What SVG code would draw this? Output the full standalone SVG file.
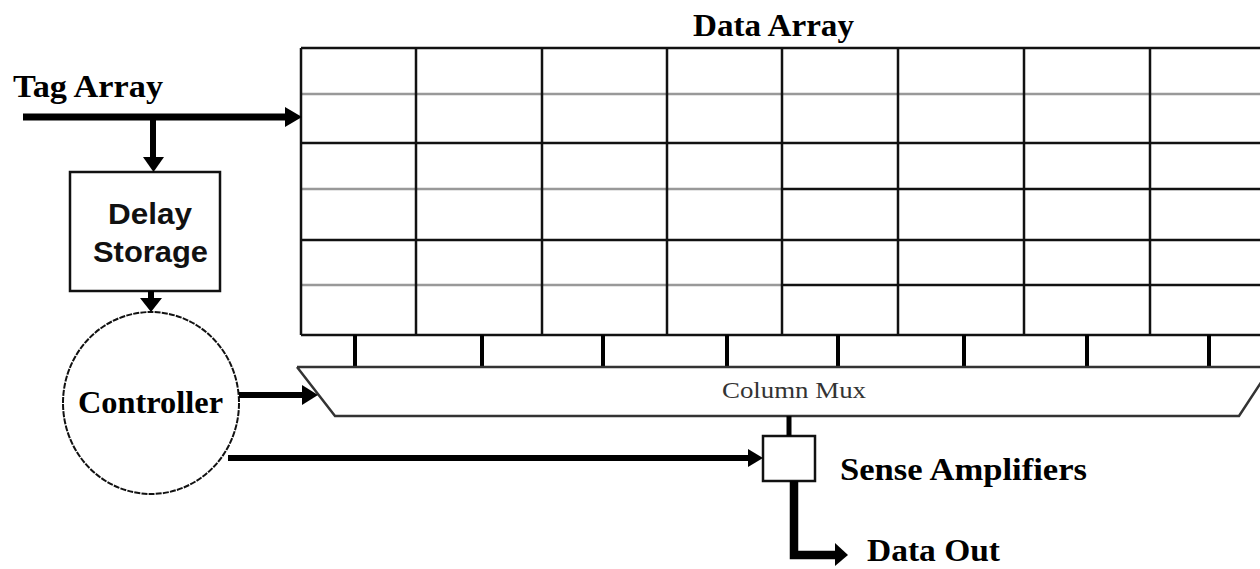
<svg xmlns="http://www.w3.org/2000/svg" width="1260" height="569" viewBox="0 0 1260 569">
<style>
.grid{stroke:#111;stroke-width:2.5;fill:none}
.gray{stroke:#999;stroke-width:2.5}
.tick{stroke:#000;stroke-width:4}
.box{fill:#fff;stroke:#111;stroke-width:2.5}
.conn{stroke:#000;fill:none}
.ah{fill:#000}
.ser{font-family:"Liberation Serif","Times New Roman",serif;font-weight:bold;font-size:32px;fill:#000}
.sans{font-family:"Liberation Sans",Arial,sans-serif;font-weight:bold;font-size:30px;fill:#111}
</style>
<rect width="1260" height="569" fill="#fff"/>
<g id="data-array">
<path class="grid" d="M301,48H1260M301,143H1260M301,240H1260M301,335H1260M782,189H1260M782,285H1260"/>
<path class="gray" d="M301,94H1260M301,189H782M301,285H782"/>
<path class="grid" d="M301,48V335M416,48V335M542,48V335M667,48V335M782,48V335M898,48V335M1024,48V335M1150,48V335"/>
<path class="tick" d="M355,335V367M482,335V367M603,335V367M727,335V367M838,335V367M964,335V367M1087,335V367M1209,335V367"/>
<text class="ser" x="693" y="36" textLength="161" lengthAdjust="spacingAndGlyphs">Data Array</text>
</g>
<g id="column-mux">
<path d="M297,367H1260M297,367L335,416H1239L1262,381" fill="none" stroke="#333" stroke-width="2.5"/>
<text x="722" y="398" font-family="Liberation Serif,'Times New Roman',serif" font-size="23" fill="#333" textLength="144" lengthAdjust="spacingAndGlyphs">Column Mux</text>
</g>
<g id="tag-array">
<text class="ser" x="13" y="97" textLength="150" lengthAdjust="spacingAndGlyphs">Tag Array</text>
</g>
<g id="delay-storage">
<rect class="box" x="70" y="172" width="150" height="119"/>
<text class="sans" x="108" y="224" textLength="84" lengthAdjust="spacingAndGlyphs">Delay</text>
<text class="sans" x="93" y="262" textLength="115" lengthAdjust="spacingAndGlyphs">Storage</text>
</g>
<g id="controller">
<ellipse cx="151" cy="403" rx="88" ry="91" fill="#fff" stroke="#111" stroke-width="2" stroke-dasharray="6 1.2"/>
<text class="ser" x="78" y="413" textLength="145" lengthAdjust="spacingAndGlyphs">Controller</text>
</g>
<g id="sense-amplifiers">
<rect class="box" x="763" y="436" width="52" height="45"/>
<text class="ser" x="840" y="480" textLength="247" lengthAdjust="spacingAndGlyphs">Sense Amplifiers</text>
</g>
<g id="data-out">
<text class="ser" x="867" y="561" font-size="30" textLength="133" lengthAdjust="spacingAndGlyphs">Data Out</text>
</g>
<g id="connectors">
<path class="conn" stroke-width="7" d="M23,117H287"/>
<polygon class="ah" points="285,107 302,117 285,127"/>
<path class="conn" stroke-width="6" d="M153,117V159"/>
<polygon class="ah" points="143,157 164,157 153.5,172"/>
<path class="conn" stroke-width="6" d="M151,291V300"/>
<polygon class="ah" points="140,298 162,298 151,312"/>
<path class="conn" stroke-width="6" d="M239,395H304"/>
<polygon class="ah" points="302,385 318,395 302,405"/>
<path class="conn" stroke-width="6" d="M228,458H750"/>
<polygon class="ah" points="748,449 763,458 748,467"/>
<path class="conn" stroke-width="5" d="M789,416V436"/>
<path class="conn" stroke-width="8.5" d="M794,481V555H837"/>
<polygon class="ah" points="835,543 848,555 835,566"/>
</g>
</svg>
